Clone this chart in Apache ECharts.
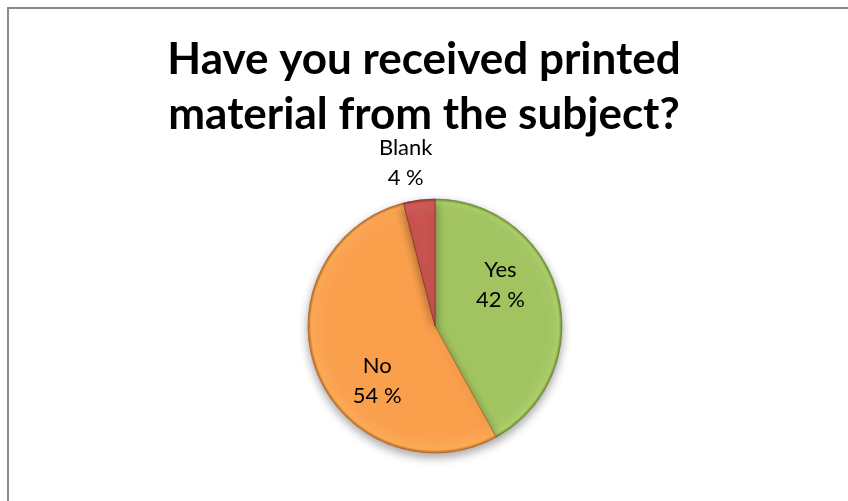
<!DOCTYPE html>
<html>
<head>
<meta charset="utf-8">
<script src="https://cdn.jsdelivr.net/npm/echarts@6/dist/echarts.min.js"></script>
<style>
  html, body { margin: 0; padding: 0; background: #ffffff; }
  #chart { width: 848px; height: 501px; }
</style>
</head>
<body>
<div id="chart"></div>
<script>
// Survey answers and their shares (percent)
const categories = ['Yes', 'No', 'Blank'];
const shares = [42, 54, 4];
const sliceColors = ['#A1C460', '#FAA04D', '#C9534F'];
const edgeColors = ['#6f8a3c', '#b8682a', '#8c3532'];
// Label nudges so the text sits where the answer names are read best
const labelOffsets = [[1, -25], [4, 30], [-21, -97]];

const chartTitle = 'Have you received printed\nmaterial from the subject?';

const W = 848, H = 501;
const cx = 435, cy = 326, R = 127;

function shaded(base, edge) {
  return {
    type: 'radial', x: cx, y: cy, r: R, global: true,
    colorStops: [
      { offset: 0, color: base },
      { offset: 0.86, color: base },
      { offset: 0.93, color: echarts.color.lift(base, 0.05) },
      { offset: 0.975, color: echarts.color.lift(base, -0.08) },
      { offset: 1, color: edge }
    ]
  };
}

const pieData = categories.map((name, i) => ({
  name: name,
  value: shares[i],
  itemStyle: {
    color: shaded(sliceColors[i], edgeColors[i]),
    borderColor: edgeColors[i],
    borderWidth: 0.8
  },
  label: { offset: labelOffsets[i] }
}));

const chart = echarts.init(document.getElementById('chart'), null, { renderer: 'canvas' });
chart.setOption({
  backgroundColor: '#ffffff',
  animation: false,
  title: {
    text: chartTitle,
    left: 'center',
    top: 27,
    textStyle: {
      fontFamily: 'Lato',
      fontWeight: 'bold',
      fontSize: 44,
      lineHeight: 55,
      color: '#000000'
    }
  },
  graphic: [{
    type: 'rect',
    shape: { x: 8, y: 8, width: W + 20, height: H + 20 },
    style: { fill: null, stroke: '#8a8a8a', lineWidth: 2 },
    silent: true
  }],
  series: [{
    type: 'pie',
    center: [cx, cy],
    radius: [0, R],
    startAngle: 90,
    clockwise: true,
    avoidLabelOverlap: false,
    data: pieData,
    itemStyle: {
      shadowColor: 'rgba(0,0,0,0.35)',
      shadowBlur: 10,
      shadowOffsetY: 4
    },
    label: {
      show: true,
      position: 'inside',
      formatter: p => p.name + '\n' + p.value + ' %',
      fontFamily: 'Lato',
      fontSize: 22,
      lineHeight: 30,
      color: '#000000'
    },
    labelLine: { show: false },
    emphasis: { disabled: true }
  }]
});
</script>
</body>
</html>
